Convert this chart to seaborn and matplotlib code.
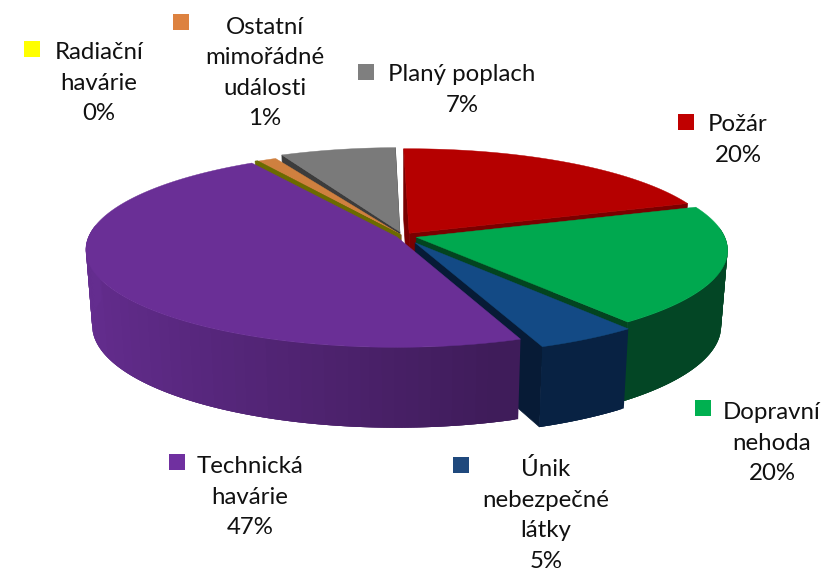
import numpy as np
import pandas as pd
import seaborn as sns
import matplotlib.pyplot as plt

# data (the 0% slice still has a sliver in the original)
labels = ['Požár', 'Dopravní\nnehoda', 'Únik\nnebezpečné\nlátky', 'Technická\nhavárie',
          'Radiační\nhavárie', 'Ostatní\nmimořádné\nudálosti', 'Planý poplach']
values = [20.0, 19.8, 4.7, 47.0, 0.15, 1.1, 6.8]
pct_labels = ['20%', '20%', '5%', '47%', '0%', '1%', '7%']

top_colors = ['#b50000', '#00a84f', '#134a85', '#6a2f96', '#6b6b00', '#cf803f', '#7a7a7a']
key_colors = ['#c00000', '#00b050', '#1f497d', '#7030a0', '#ffff00', '#dd8240', '#7f7f7f']
wall_left = ['#7a0000', '#04482a', '#0a2a50', '#652d90', '#6b6b00', '#8a5528', '#3c3c3c']
wall_right = ['#7a0000', '#034420', '#071b36', '#3f1c5a', '#6b6b00', '#8a5528', '#3c3c3c']

explode = [0.035, 0.045, 0.080, 0.022, 0.018, 0.012, 0.045]
gap_before = [0, 0, 0, 0, 0, 0, 1.6]  # degrees of blank before a slice
draw_order = [6, 5, 4, 0, 1, 2, 3]

label_x = [738, 772, 546, 250, 99, 265, 462]
label_y = [140, 443, 515, 497, 83, 73, 90]
key_x = [686, 703, 461, 177, 32, 181, 366]
key_y = [122, 408, 465, 462, 49, 22, 72]

# pie projection in pixels
cx, cy = 403, 236
rx, ry = 308, 96
persp = 0.128
depth = 75
rot = -1.0


def project(u, v, down=0.0):
    s = 1 / (1 - persp * v)
    return cx + rx * u * s * (1 - 0.02 * down / depth), cy + ry * v * s + down * s ** 0.5


sns.set_theme(style='white')
plt.rcParams['font.family'] = ['Lato', 'DejaVu Sans']

fig, ax = plt.subplots(figsize=(8.23, 5.71), dpi=100)
fig.subplots_adjust(0, 0, 1, 1)
ax.set_xlim(0, 823)
ax.set_ylim(571, 0)
ax.axis('off')

shares = np.array(values) / 100 * 360
starts = rot + np.concatenate([[0], np.cumsum(shares)[:-1]]) + np.cumsum(gap_before)

for i in draw_order:
    t0 = np.radians(starts[i])
    t1 = np.radians(starts[i] + shares[i])
    tm = (t0 + t1) / 2
    ou, ov = explode[i] * np.sin(tm), -explode[i] * np.cos(tm)
    th = np.linspace(t0, t1, max(int(shares[i] * 2), 4))
    u = ou + np.sin(th)
    v = ov - np.cos(th)

    # radial walls, only the ones facing the viewer
    for t, facing in ((t0, -np.sin(t0)), (t1, np.sin(t1))):
        if facing > -0.02:
            eu, ev = ou + np.sin(t), ov - np.cos(t)
            a = project(ou, ov)
            b = project(eu, ev)
            c = project(eu, ev, depth)
            d = project(ou, ov, depth)
            ax.fill([a[0], b[0], c[0], d[0]], [a[1], b[1], c[1], d[1]],
                    color=wall_right[i], lw=0.5, zorder=2)

    # outer wall as overlapping strips so the shading runs along it
    xt, yt = project(u, v)
    xb, yb = project(u, v, depth)
    pal = sns.blend_palette([wall_right[i], wall_left[i]], 40)
    for k in range(len(th) - 1):
        if -np.cos(th[k]) < -0.1 and -np.cos(th[k + 1]) < -0.1:
            continue
        frac = 0.5
        if i == 3:
            frac = np.clip((0.3 - np.sin(th[k])) / 1.3, 0, 1)
        n = min(k + 3, len(th) - 1)
        ax.fill(np.r_[xt[k:n + 1], xb[k:n + 1][::-1]], np.r_[yt[k:n + 1], yb[k:n + 1][::-1]],
                color=pal[int(frac * 39)], lw=0, zorder=2)

    # top face
    ax_, ay_ = project(ou, ov)
    ax.fill(np.r_[ax_, xt], np.r_[ay_, yt], color=top_colors[i], lw=0.3, zorder=2)

keys = pd.DataFrame({'x': key_x, 'y': key_y, 'label': labels})
sns.scatterplot(data=keys, x='x', y='y', hue='label', palette=key_colors, marker='s',
                s=117, linewidth=0, legend=False, ax=ax, zorder=3)
ax.set_xlabel('')
ax.set_ylabel('')

for lab, pct, x, y in zip(labels, pct_labels, label_x, label_y):
    ax.text(x, y, lab + '\n' + pct, ha='center', va='center', fontsize=17.3,
            linespacing=1.56, color='#111111')

plt.savefig('out.png', dpi=100)
